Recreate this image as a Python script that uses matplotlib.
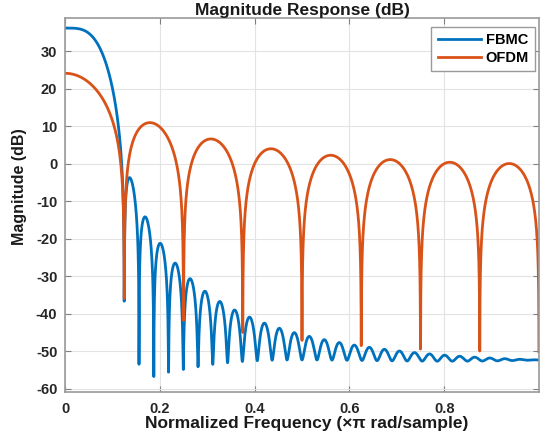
import numpy as np
import matplotlib
matplotlib.use("Agg")
import matplotlib.pyplot as plt

# ---- data: filter definitions ----
subcarriers_M = 16            # OFDM rectangular window length (nulls every 0.125)
overlap_K = 4                 # FBMC overlapping factor (nulls every 1/32)
phydyas_Hk = [1.0, 0.97195983, 0.70710678, 0.23514695]   # PHYDYAS prototype coefficients
fbmc_taps = 63                # prototype sampled at n = 0 .. K*M-2
n_freq_points = 4000          # frequency grid points over [0, pi)
series_names = ["FBMC", "OFDM"]
x_ticks = [0, 0.2, 0.4, 0.6, 0.8]
y_ticks = [-60, -50, -40, -30, -20, -10, 0, 10, 20, 30]

# ---- filters ----
L = overlap_K * subcarriers_M
n = np.arange(0, fbmc_taps)
h_fbmc = np.full(fbmc_taps, phydyas_Hk[0])
for k in range(1, overlap_K):
    h_fbmc += 2 * (-1) ** k * phydyas_Hk[k] * np.cos(2 * np.pi * k * n / L)
h_ofdm = np.ones(subcarriers_M)

x = (np.arange(n_freq_points) + 0.5) / n_freq_points
w = np.pi * x

def resp_db(h):
    nn = np.arange(len(h))
    H = np.exp(-1j * np.outer(w, nn)) @ h
    return 20 * np.log10(np.abs(H) + 1e-300)

fbmc_db = resp_db(h_fbmc)
ofdm_db = resp_db(h_ofdm)

plt.rcParams['font.family'] = ['Liberation Sans', 'DejaVu Sans']
plt.rcParams['font.weight'] = 'bold'

fig = plt.figure(figsize=(5.44, 4.34), dpi=100)
ax = fig.add_axes([65 / 544, 1 - 392 / 434, 474 / 544, 374 / 434])

ax.plot(x, fbmc_db, color='#0072BD', lw=2.0, label=series_names[0])
ax.plot(x, ofdm_db, color='#D95319', lw=2.0, label=series_names[1])

ax.set_xlim(0, 1)
ax.set_ylim(-60.8, 38.8)
ax.set_xticks(x_ticks)
ax.set_xticklabels([f"{t:g}" for t in x_ticks])
ax.set_yticks(y_ticks)
ax.set_yticklabels([f"{t:d}" for t in y_ticks])
ax.tick_params(direction='in', length=4, width=0.8, colors='#808080',
               labelcolor='#262626', labelsize=10.5, top=True, right=True)
ax.tick_params(axis='x', pad=7)
ax.tick_params(axis='y', pad=5.5)
for lbl in ax.get_xticklabels() + ax.get_yticklabels():
    lbl.set_fontweight('bold')
ax.grid(True, color='#e3e3e3', lw=0.8)
ax.set_axisbelow(True)
for s in ax.spines.values():
    s.set_color('#9a9a9a')
    s.set_linewidth(1.2)

ax.set_ylabel('Magnitude (dB)', fontsize=11.5, fontweight='bold', color='#1a1a1a')
ax.yaxis.set_label_coords(-0.08, 0.55)
ax.set_xlabel('Normalized Frequency (×π rad/sample)', fontsize=12.5,
              fontweight='bold', color='#1a1a1a')
ax.xaxis.set_label_coords(0.51, -0.064)
ax.set_title('Magnitude Response (dB)', fontsize=12.5, fontweight='bold',
             color='#1a1a1a', pad=2.3)

leg = ax.legend(loc='upper right', bbox_to_anchor=(0.9916, 0.976), borderaxespad=0,
                fontsize=10.5, handlelength=3.0,
                frameon=True, fancybox=False, edgecolor='#9a9a9a', framealpha=1,
                handletextpad=0.3, borderpad=0.42, labelspacing=0.25)
leg.get_frame().set_linewidth(1.0)
for t in leg.get_texts():
    t.set_fontweight('bold')

fig.savefig('out.png', dpi=100)
